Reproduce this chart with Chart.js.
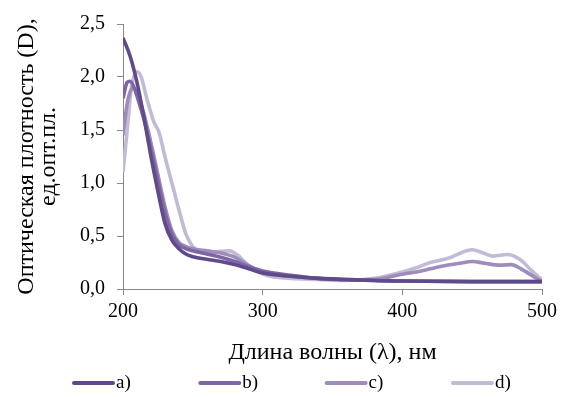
<!DOCTYPE html>
<html>
<head>
<meta charset="utf-8">
<script src="https://cdn.jsdelivr.net/npm/chart.js@4.4.1/dist/chart.umd.min.js"></script>
<style>
  html, body { margin: 0; padding: 0; background: #fff; }
  #wrap { width: 562px; height: 397px; }
</style>
</head>
<body>
<div id="wrap"><canvas id="spectra"></canvas></div>
<script>
// длины волн (нм) и оптическая плотность для каждого образца
const waveA = [200, 205, 210, 215, 220, 225, 230, 235, 240, 245, 250, 260, 270, 280, 290, 300, 320, 340, 360, 380, 400, 450, 500];
const valA  = [2.37, 2.2, 1.95, 1.62, 1.25, 0.92, 0.62, 0.46, 0.38, 0.33, 0.305, 0.28, 0.26, 0.23, 0.19, 0.15, 0.12, 0.1, 0.09, 0.08, 0.075, 0.07, 0.07];

const waveB = [200, 203, 205, 208, 210, 215, 220, 225, 230, 235, 240, 245, 250, 260, 270, 280, 290, 300, 320, 340, 360, 380, 400, 450, 500];
const valB  = [1.8, 1.95, 1.96, 1.9, 1.82, 1.6, 1.32, 1.02, 0.72, 0.52, 0.42, 0.38, 0.36, 0.33, 0.3, 0.26, 0.21, 0.17, 0.13, 0.1, 0.09, 0.08, 0.075, 0.07, 0.07];

const waveC = [200, 203, 207, 210, 215, 220, 225, 230, 235, 240, 245, 250, 260, 270, 280, 290, 300, 320, 340, 360, 380, 400, 410, 420, 430, 440, 450, 460, 470, 478, 485, 490, 500];
const valC  = [1.45, 1.75, 1.9, 1.85, 1.65, 1.38, 1.08, 0.78, 0.55, 0.44, 0.4, 0.38, 0.36, 0.34, 0.3, 0.22, 0.16, 0.12, 0.1, 0.085, 0.09, 0.14, 0.16, 0.19, 0.22, 0.24, 0.26, 0.24, 0.225, 0.23, 0.19, 0.15, 0.07];

const waveD = [200, 203, 206, 210, 213, 217, 222, 226, 230, 236, 240, 245, 250, 255, 260, 270, 276, 282, 290, 300, 310, 320, 340, 360, 380, 400, 410, 420, 430, 435, 440, 450, 458, 465, 475, 480, 486, 492, 500];
const valD  = [1.1, 1.5, 1.9, 2.05, 2.0, 1.8, 1.58, 1.47, 1.25, 0.95, 0.75, 0.52, 0.4, 0.35, 0.34, 0.355, 0.36, 0.32, 0.22, 0.14, 0.11, 0.1, 0.09, 0.08, 0.1, 0.16, 0.2, 0.25, 0.28, 0.3, 0.33, 0.37, 0.34, 0.31, 0.325, 0.31, 0.26, 0.18, 0.085];

const labels = ['a)', 'b)', 'c)', 'd)'];
const colors = ['#5f4b8b', '#7f65a3', '#9e8cba', '#c3bad5'];

const xTicks = [200, 300, 400, 500];
const yTicks = [0, 0.5, 1.0, 1.5, 2.0, 2.5];

const toPoints = (xs, ys) => xs.map((x, i) => ({ x: x, y: ys[i] }));
const series = [toPoints(waveA, valA), toPoints(waveB, valB), toPoints(waveC, valC), toPoints(waveD, valD)];

const serif = "'Liberation Serif', 'Times New Roman', serif";
const axisGrey = '#898989';

// легенда в одну строку, как в Excel: линия + подпись
const lineLegend = {
    id: 'lineLegend',
    afterDraw(chart, args, opts) {
        const c = chart.ctx;
        c.save();
        c.font = opts.size + 'px ' + serif;
        c.textBaseline = 'middle';
        c.lineCap = 'round';
        chart.data.datasets.forEach((ds, i) => {
            const x = opts.left + i * opts.step;
            c.strokeStyle = ds.borderColor;
            c.lineWidth = 4;
            c.beginPath();
            c.moveTo(x + 2, opts.y);
            c.lineTo(x + opts.lineLen - 2, opts.y);
            c.stroke();
            c.fillStyle = '#000';
            c.fillText(ds.label, x + opts.lineLen + 1, opts.y);
        });
        c.restore();
    }
};

const ctx = document.getElementById('spectra').getContext('2d');
const chart = new Chart(ctx, {
    type: 'line',
    data: {
        datasets: series.map((pts, i) => ({
            label: labels[i],
            data: pts,
            borderColor: colors[i],
            backgroundColor: colors[i],
            borderWidth: 3.6,
            pointRadius: 0,
            cubicInterpolationMode: 'monotone',
            fill: false
        }))
    },
    options: {
        responsive: true,
        maintainAspectRatio: false,
        animation: false,
        layout: { padding: { top: 22, right: 18, left: 0, bottom: 30 } },
        plugins: {
            tooltip: { enabled: false },
            legend: { display: false },
            lineLegend: { left: 72, step: 126.3, lineLen: 43, y: 383, size: 19 }
        },
        scales: {
            x: {
                type: 'linear',
                min: 200,
                max: 500,
                afterBuildTicks: (axis) => { axis.ticks = xTicks.map(v => ({ value: v })); },
                grid: { drawOnChartArea: false, color: axisGrey, tickLength: 6 },
                border: { color: axisGrey, width: 1 },
                ticks: { color: '#000', font: { family: serif, size: 20 }, padding: 5, maxRotation: 0 },
                title: {
                    display: true,
                    text: 'Длина волны (λ), нм',
                    color: '#000',
                    font: { family: serif, size: 24, lineHeight: 1 },
                    padding: { top: 0, bottom: 2 }
                },
                afterFit: (axis) => { axis.height = 78; }
            },
            y: {
                min: 0,
                max: 2.5,
                afterBuildTicks: (axis) => { axis.ticks = yTicks.map(v => ({ value: v })); },
                grid: { drawOnChartArea: false, color: axisGrey, tickLength: 6 },
                border: { color: axisGrey, width: 1 },
                ticks: {
                    color: '#000',
                    font: { family: serif, size: 20 },
                    padding: 12,
                    callback: (v) => v.toFixed(1).replace('.', ',')
                },
                title: {
                    display: true,
                    text: ['Оптическая плотность (D),', 'ед.опт.пл.'],
                    color: '#000',
                    font: { family: serif, size: 24, lineHeight: 0.92 },
                    padding: { top: 16, bottom: 0 }
                },
                afterFit: (axis) => { axis.width = 123; }
            }
        }
    },
    plugins: [lineLegend]
});
</script>
</body>
</html>
